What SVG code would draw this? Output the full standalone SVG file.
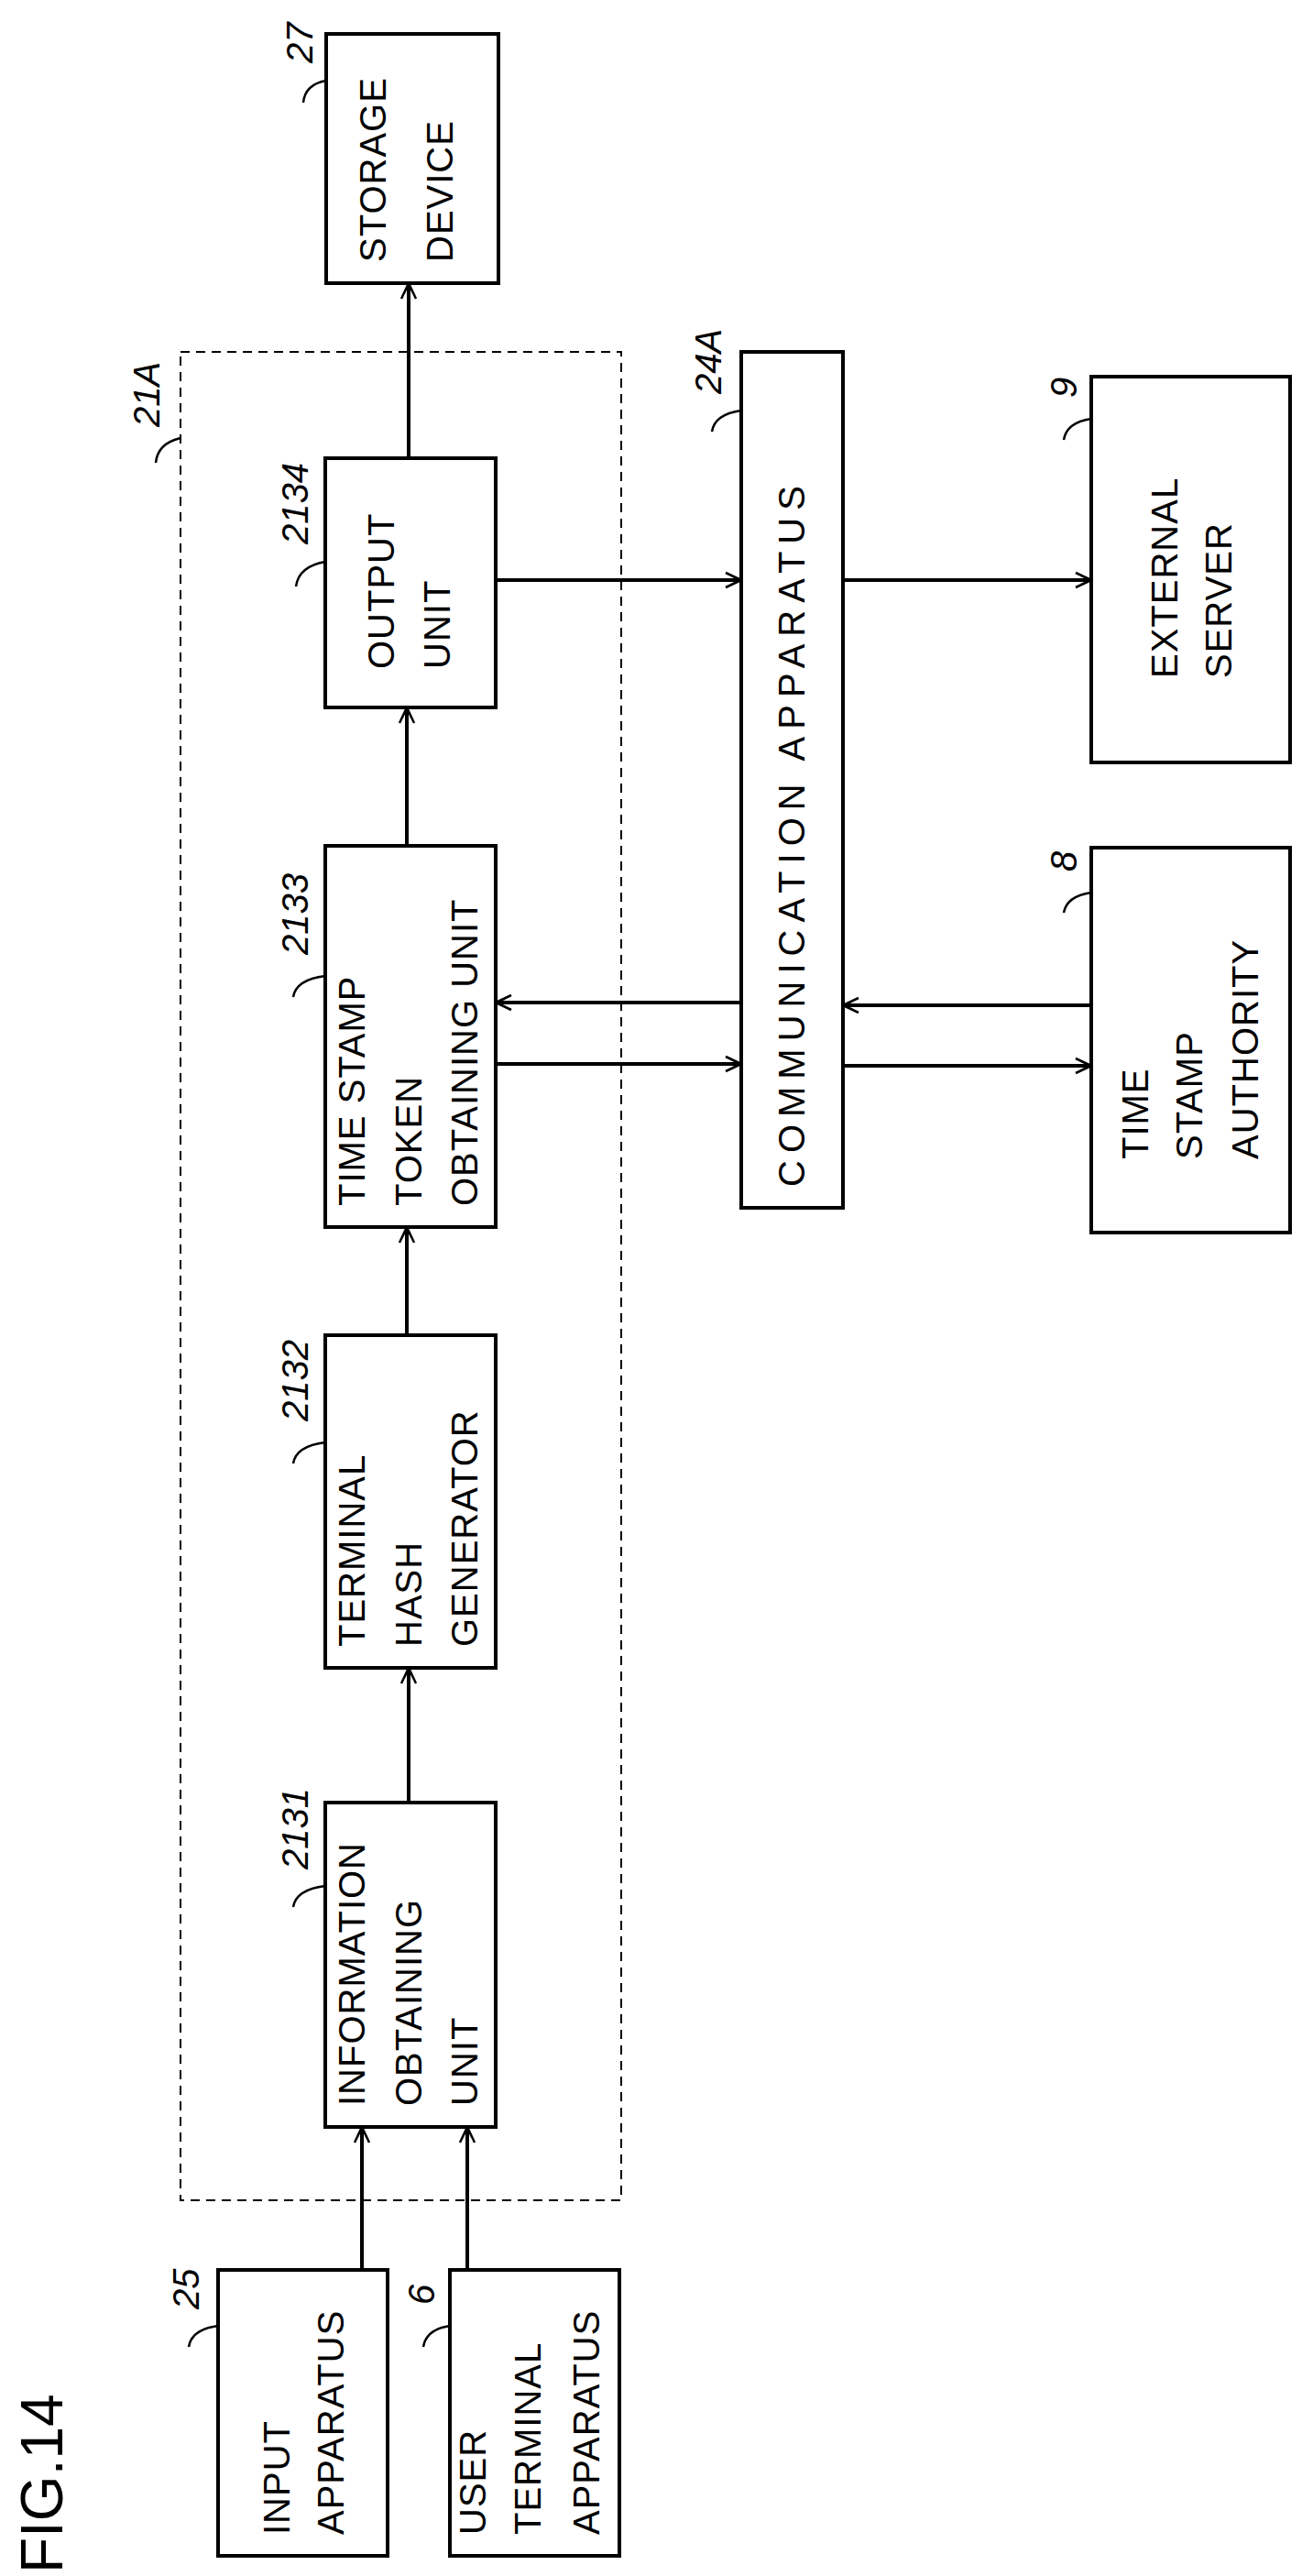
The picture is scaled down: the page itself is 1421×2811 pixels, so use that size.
<svg xmlns="http://www.w3.org/2000/svg" width="1421" height="2811" viewBox="0 0 1421 2811">
<style>
.b{fill:#fff;stroke:#000;stroke-width:4}
.t{font-family:"Liberation Sans",Arial,sans-serif;font-size:40px;letter-spacing:1px;fill:#000}
.w{letter-spacing:8px}
.r{font-family:"Liberation Sans",Arial,sans-serif;font-size:40px;font-style:italic;fill:#000}
.c{stroke:#000;stroke-width:4;fill:none}
.l{stroke:#000;stroke-width:2.5;fill:none}
</style>
<defs>
<marker id="a" viewBox="0 0 20 20" refX="19" refY="10" markerWidth="20" markerHeight="20" markerUnits="userSpaceOnUse" orient="auto">
<path d="M2 2 L19 10 L2 18 M8 5 L19 10 L8 15" fill="none" stroke="#000" stroke-width="2.5"/>
</marker>
</defs>
<rect x="0" y="0" width="1421" height="2811" fill="#fff"/>
<rect id="g21A" x="197" y="384" width="481" height="2017" fill="none" stroke="#000" stroke-width="2" stroke-dasharray="10 7"/>
<g id="n27"><rect class="b" x="356" y="37" width="188" height="272"/>
<text class="t" transform="translate(421,286) rotate(-90)">STORAGE</text>
<text class="t" transform="translate(494,286) rotate(-90)">DEVICE</text></g>
<g id="n2134"><rect class="b" x="355" y="500" width="186" height="272"/>
<text class="t" transform="translate(430,730) rotate(-90)">OUTPUT</text>
<text class="t" transform="translate(491,730) rotate(-90)">UNIT</text></g>
<g id="n2133"><rect class="b" x="355" y="923" width="186" height="416"/>
<text class="t" transform="translate(398,1316) rotate(-90)">TIME STAMP</text>
<text class="t" transform="translate(460,1316) rotate(-90)">TOKEN</text>
<text class="t" transform="translate(521,1316) rotate(-90)">OBTAINING UNIT</text></g>
<g id="n2132"><rect class="b" x="355" y="1457" width="186" height="363"/>
<text class="t" transform="translate(398,1797) rotate(-90)">TERMINAL</text>
<text class="t" transform="translate(460,1797) rotate(-90)">HASH</text>
<text class="t" transform="translate(521,1797) rotate(-90)">GENERATOR</text></g>
<g id="n2131"><rect class="b" x="355" y="1967" width="186" height="354"/>
<text class="t" transform="translate(398,2298) rotate(-90)">INFORMATION</text>
<text class="t" transform="translate(460,2298) rotate(-90)">OBTAINING</text>
<text class="t" transform="translate(521,2298) rotate(-90)">UNIT</text></g>
<g id="n24A"><rect class="b" x="809" y="384" width="111" height="934"/>
<text class="t w" transform="translate(878,1295) rotate(-90)">COMMUNICATION APPARATUS</text></g>
<g id="n9"><rect class="b" x="1191" y="411" width="217" height="421"/>
<text class="t" transform="translate(1285,740) rotate(-90)">EXTERNAL</text>
<text class="t" transform="translate(1344,740) rotate(-90)">SERVER</text></g>
<g id="n8"><rect class="b" x="1191" y="925" width="217" height="420"/>
<text class="t" transform="translate(1253,1265) rotate(-90)">TIME</text>
<text class="t" transform="translate(1312,1265) rotate(-90)">STAMP</text>
<text class="t" transform="translate(1373,1265) rotate(-90)">AUTHORITY</text></g>
<g id="n25"><rect class="b" x="238" y="2477" width="185" height="312"/>
<text class="t" transform="translate(316,2766) rotate(-90)">INPUT</text>
<text class="t" transform="translate(375,2766) rotate(-90)">APPARATUS</text></g>
<g id="n6"><rect class="b" x="491" y="2477" width="185" height="312"/>
<text class="t" transform="translate(530,2766) rotate(-90)">USER</text>
<text class="t" transform="translate(590,2766) rotate(-90)">TERMINAL</text>
<text class="t" transform="translate(654,2766) rotate(-90)">APPARATUS</text></g>
<g id="connectors">
<line class="c" x1="446" y1="500" x2="446" y2="309" marker-end="url(#a)"/>
<line class="c" x1="444" y1="923" x2="444" y2="772" marker-end="url(#a)"/>
<line class="c" x1="444" y1="1457" x2="444" y2="1339" marker-end="url(#a)"/>
<line class="c" x1="446" y1="1967" x2="446" y2="1820" marker-end="url(#a)"/>
<line class="c" x1="395" y1="2477" x2="395" y2="2321" marker-end="url(#a)"/>
<line class="c" x1="510" y1="2477" x2="510" y2="2321" marker-end="url(#a)"/>
<line class="c" x1="541" y1="633" x2="809" y2="633" marker-end="url(#a)"/>
<line class="c" x1="920" y1="633" x2="1191" y2="633" marker-end="url(#a)"/>
<line class="c" x1="809" y1="1094" x2="541" y2="1094" marker-end="url(#a)"/>
<line class="c" x1="541" y1="1161" x2="809" y2="1161" marker-end="url(#a)"/>
<line class="c" x1="1191" y1="1097" x2="920" y2="1097" marker-end="url(#a)"/>
<line class="c" x1="920" y1="1163" x2="1191" y2="1163" marker-end="url(#a)"/>
</g>
<g id="labels">
<text class="r" transform="translate(341,69) rotate(-90)">27</text>
<path class="l" d="M331 112 Q333 92 356 88"/>
<text class="r" transform="translate(174,466) rotate(-90)">21A</text>
<path class="l" d="M170 505 Q172 484 197 478"/>
<text class="r" transform="translate(336,594) rotate(-90)">2134</text>
<path class="l" d="M323 640 Q326 618 355 613"/>
<text class="r" transform="translate(787,430) rotate(-90)">24A</text>
<path class="l" d="M777 471 Q780 452 809 448"/>
<text class="r" transform="translate(1175,434) rotate(-90)">9</text>
<path class="l" d="M1161 480 Q1164 461 1191 457"/>
<text class="r" transform="translate(336,1042) rotate(-90)">2133</text>
<path class="l" d="M320 1088 Q323 1069 355 1065"/>
<text class="r" transform="translate(1175,951) rotate(-90)">8</text>
<path class="l" d="M1161 996 Q1164 978 1191 974"/>
<text class="r" transform="translate(336,1551) rotate(-90)">2132</text>
<path class="l" d="M320 1597 Q323 1578 355 1574"/>
<text class="r" transform="translate(336,2040) rotate(-90)">2131</text>
<path class="l" d="M320 2081 Q323 2062 355 2058"/>
<text class="r" transform="translate(217,2520) rotate(-90)">25</text>
<path class="l" d="M206 2561 Q209 2542 238 2538"/>
<text class="r" transform="translate(474,2515) rotate(-90)">6</text>
<path class="l" d="M462 2561 Q465 2542 491 2538"/>
<text transform="translate(68,2808) rotate(-90)" font-family="Liberation Sans,Arial,sans-serif" font-size="64">FIG.14</text>
</g>
</svg>
